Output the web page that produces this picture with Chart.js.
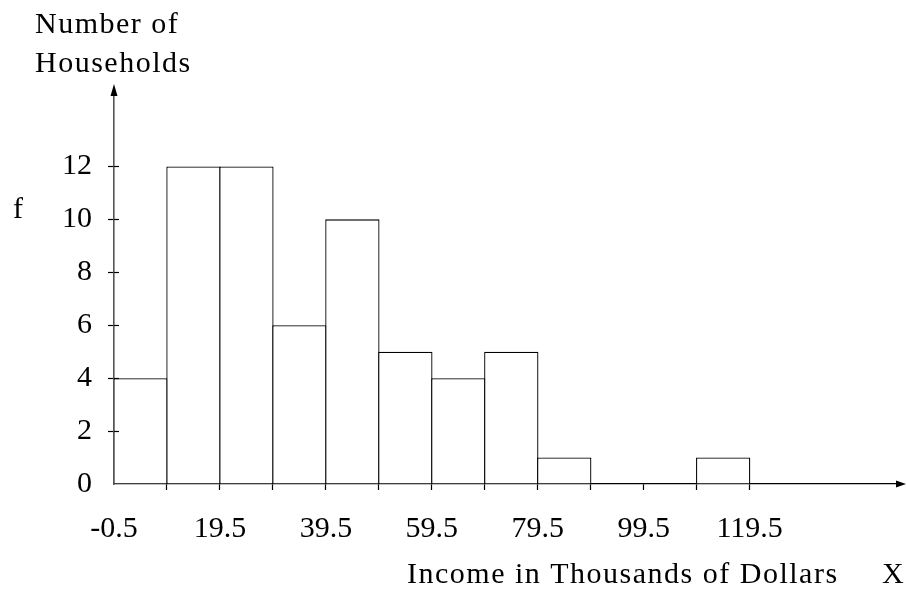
<!DOCTYPE html>
<html>
<head>
<meta charset="utf-8">
<script src="https://cdn.jsdelivr.net/npm/chart.js@4"></script>
<style>
    html, body { margin: 0; padding: 0; background: #fff; }
    #wrap { width: 906px; height: 597px; }
</style>
</head>
<body>
<div id="wrap"><canvas id="histChart" width="906" height="597"></canvas></div>
<script>
// bin edges (thousands of dollars) and household counts per bin
const binEdges = [-0.5, 9.5, 19.5, 29.5, 39.5, 49.5, 59.5, 69.5, 79.5, 89.5, 99.5, 109.5, 119.5];
const counts = [4, 12, 12, 6, 10, 5, 4, 5, 1, 0, 0, 1];
const xTickLabels = ['-0.5', '19.5', '39.5', '59.5', '79.5', '99.5', '119.5'];
const yTicks = [0, 2, 4, 6, 8, 10, 12];

const FONT = 'Liberation Serif';
const fontSize = 30;

const bars = counts.map((c, i) => ({ x: (binEdges[i] + binEdges[i + 1]) / 2, y: c }));

// arrows, axis titles and the inner half of the y ticks
const axisExtras = {
    id: 'axisExtras',
    afterDraw(chart) {
        const ctx = chart.ctx;
        const area = chart.chartArea;
        const y = chart.scales.y;
        ctx.save();
        ctx.fillStyle = '#000';
        // y arrow
        ctx.beginPath();
        ctx.moveTo(area.left, area.top - 11);
        ctx.lineTo(area.left - 3.5, area.top + 1);
        ctx.lineTo(area.left + 3.5, area.top + 1);
        ctx.closePath();
        ctx.fill();
        // x arrow
        ctx.beginPath();
        ctx.moveTo(area.right + 8, area.bottom);
        ctx.lineTo(area.right - 2, area.bottom - 3.5);
        ctx.lineTo(area.right - 2, area.bottom + 3.5);
        ctx.closePath();
        ctx.fill();

        ctx.strokeStyle = '#000';
        ctx.lineWidth = 1.2;
        yTicks.forEach(v => {
            if (v === 0) return;
            const py = Math.round(y.getPixelForValue(v)) + 0.5;
            ctx.beginPath();
            ctx.moveTo(area.left, py);
            ctx.lineTo(area.left + 5, py);
            ctx.stroke();
        });

        ctx.font = fontSize + 'px "' + FONT + '"';
        ctx.textBaseline = 'alphabetic';
        ctx.textAlign = 'left';
        ctx.letterSpacing = '1.5px';
        ctx.fillText('Number of', 35, 33);
        ctx.fillText('Households', 35, 72);
        ctx.fillText('f', 13, 218);
        ctx.fillText('Income in Thousands of Dollars', 407, 583);
        ctx.fillText('X', 882, 583);
        ctx.letterSpacing = '0px';
        ctx.restore();
    }
};

const ctx = document.getElementById('histChart').getContext('2d');
const histChart = new Chart(ctx, {
    type: 'bar',
    data: {
        datasets: [{
            data: bars,
            backgroundColor: '#fff',
            borderColor: '#000',
            borderWidth: 1.3,
            categoryPercentage: 1,
            barPercentage: 1.025 // overlap by one border so shared edges are single lines
        }]
    },
    options: {
        responsive: false,
        animation: false,
        layout: { padding: { top: 95, right: 8, left: 0, bottom: 0 } },
        plugins: {
            legend: { display: false },
            tooltip: { enabled: false }
        },
        scales: {
            x: {
                type: 'linear',
                min: -0.5,
                max: 147.5,
                offset: false,
                afterBuildTicks: axis => { axis.ticks = binEdges.map(v => ({ value: v })); },
                afterFit: axis => { axis.height = 113; },
                ticks: {
                    autoSkip: false,
                    maxRotation: 0,
                    padding: 21,
                    color: '#000',
                    font: { family: FONT, size: fontSize },
                    callback: function (value) {
                        const s = value.toFixed(1);
                        return xTickLabels.includes(s) ? s : '';
                    }
                },
                grid: {
                    offset: false,
                    drawOnChartArea: false,
                    drawTicks: true,
                    tickLength: 6,
                    tickWidth: 1.2,
                    tickColor: c => c.index === 0 ? 'rgba(0,0,0,0)' : '#000'
                },
                border: { display: true, color: '#000', width: 1.3 }
            },
            y: {
                min: 0,
                max: 14.7,
                afterBuildTicks: axis => { axis.ticks = yTicks.map(v => ({ value: v })); },
                afterFit: axis => { axis.width = 114; },
                ticks: {
                    padding: 16,
                    color: '#000',
                    font: { family: FONT, size: fontSize }
                },
                grid: {
                    drawOnChartArea: false,
                    drawTicks: true,
                    tickLength: 6,
                    tickWidth: 1.2,
                    tickColor: c => c.index === 0 ? 'rgba(0,0,0,0)' : '#000'
                },
                border: { display: true, color: '#555', width: 1.6 }
            }
        }
    },
    plugins: [axisExtras]
});
</script>
</body>
</html>
